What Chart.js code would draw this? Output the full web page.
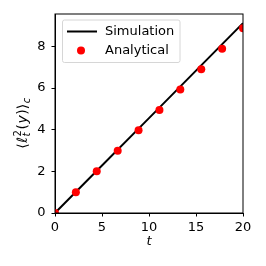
<!DOCTYPE html>
<html>
<head>
<meta charset="utf-8">
<script src="https://cdn.jsdelivr.net/npm/chart.js@4.4.1/dist/chart.umd.min.js"></script>
<style>
  html, body { margin: 0; padding: 0; background: #fff; }
  #wrap { width: 266px; height: 266px; }
</style>
</head>
<body>
<div id="wrap"><canvas id="chart"></canvas></div>
<script>
// data
const simT = [0, 5, 10, 15, 20];
const simY = [0, 2.28, 4.56, 6.84, 9.12];
const anaT = [0, 2.22, 4.44, 6.67, 8.89, 11.11, 13.33, 15.56, 17.78, 20];
const anaY = [0, 1.0, 2.0, 2.99, 3.97, 4.95, 5.93, 6.91, 7.89, 8.88];
const xTicks = [0, 5, 10, 15, 20];
const yTicks = [0, 2, 4, 6, 8];

const FONT = 'DejaVu Sans';
Chart.defaults.font.family = FONT;
Chart.defaults.font.size = 13;
Chart.defaults.color = '#000';

// frame, legend, axis titles (y one is mathtext)
const extras = {
  id: 'extras',
  afterDraw(chart) {
    const { ctx, chartArea: a } = chart;
    ctx.save();
    ctx.strokeStyle = '#000';
    ctx.lineWidth = 1;
    ctx.strokeRect(a.left, a.top, a.right - a.left, a.bottom - a.top);

    // legend
    const lx = 62.5, ly = 20, lw = 117.5, lh = 42.5;
    ctx.fillStyle = 'rgba(255,255,255,0.8)';
    ctx.strokeStyle = '#d6d6d6';
    ctx.beginPath();
    ctx.roundRect(lx, ly, lw, lh, 2);
    ctx.fill();
    ctx.stroke();
    ctx.strokeStyle = '#000';
    ctx.lineWidth = 2;
    ctx.beginPath();
    ctx.moveTo(67, 31.5);
    ctx.lineTo(97, 31.5);
    ctx.stroke();
    ctx.fillStyle = 'red';
    ctx.beginPath();
    ctx.arc(81, 50.5, 4, 0, Math.PI * 2);
    ctx.fill();
    ctx.fillStyle = '#000';
    ctx.font = '13px ' + FONT;
    ctx.textBaseline = 'middle';
    ctx.fillText(chart.data.datasets[0].label, 105, 31.5);
    ctx.fillText(chart.data.datasets[1].label, 105, 50.5);

    // x label
    ctx.font = 'italic 13px ' + FONT;
    ctx.textAlign = 'center';
    ctx.fillText('t', (a.left + a.right) / 2, 242);
    ctx.textAlign = 'left';

    // y label <l_t^2(y)>_c, rotated
    const parts = [
      { t: '\u27E8', f: '14px ' + FONT, dy: 0 },
      { t: '\u2113', f: 'italic 14px ' + FONT, dy: 0 },
      { t: '2', f: '10px ' + FONT, dy: -5, sub: 't' },
      { t: '(', f: '14px ' + FONT, dy: 0 },
      { t: 'y', f: 'italic 14px ' + FONT, dy: 0 },
      { t: ')\u27E9', f: '14px ' + FONT, dy: 0 },
      { t: 'c', f: 'italic 10px ' + FONT, dy: 4 }
    ];
    let total = 0;
    parts.forEach(p => { ctx.font = p.f; p.w = ctx.measureText(p.t).width; total += p.w + 0.5; });
    ctx.translate(23, 123);
    ctx.rotate(-Math.PI / 2);
    ctx.textBaseline = 'middle';
    let x = -total / 2;
    parts.forEach(p => {
      ctx.font = p.f;
      ctx.fillText(p.t, x, p.dy);
      if (p.sub) {
        ctx.font = 'italic 10px ' + FONT;
        ctx.fillText(p.sub, x, 4);
      }
      x += p.w + 0.5;
    });
    ctx.restore();
  }
};

new Chart(document.getElementById('chart'), {
  type: 'scatter',
  data: {
    datasets: [
      {
        label: 'Simulation',
        type: 'line',
        data: simT.map((t, i) => ({ x: t, y: simY[i] })),
        borderColor: '#000',
        borderWidth: 2,
        pointRadius: 0,
        fill: false,
        clip: 0,
        order: 1
      },
      {
        label: 'Analytical',
        data: anaT.map((t, i) => ({ x: t, y: anaY[i] })),
        backgroundColor: 'red',
        borderWidth: 0,
        pointRadius: 4,
        clip: 0,
        order: 0
      }
    ]
  },
  options: {
    responsive: true,
    maintainAspectRatio: false,
    animation: false,
    layout: { padding: { left: 0, right: 23, top: 14, bottom: 0 } },
    plugins: { legend: { display: false }, tooltip: { enabled: false } },
    scales: {
      x: {
        type: 'linear', min: 0, max: 20,
        afterFit: s => { s.height = 53; },
        afterBuildTicks: s => { s.ticks = xTicks.map(v => ({ value: v })); },
        grid: { drawOnChartArea: false, drawTicks: true, tickLength: 3.5, color: '#000' },
        border: { color: '#000', width: 1 },
        ticks: { padding: 3, maxRotation: 0 }
      },
      y: {
        type: 'linear', min: 0, max: 9.56,
        afterFit: s => { s.width = 55; },
        afterBuildTicks: s => { s.ticks = yTicks.map(v => ({ value: v })); },
        grid: { drawOnChartArea: false, drawTicks: true, tickLength: 3.5, color: '#000' },
        border: { color: '#000', width: 1 },
        ticks: { padding: 6 }
      }
    }
  },
  plugins: [extras]
});
</script>
</body>
</html>
